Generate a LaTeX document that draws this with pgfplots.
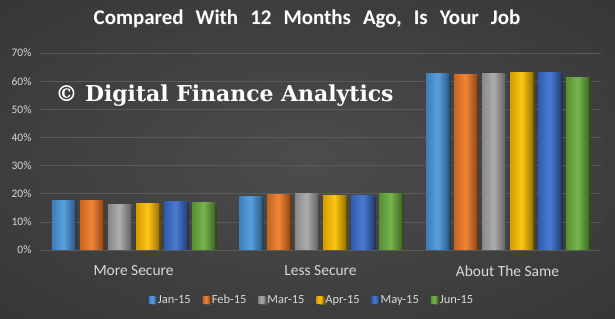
\documentclass[border=0pt]{standalone}
\usepackage{pgfplots}
\pgfplotsset{compat=1.18}
\usepackage{fontspec}
\setmainfont{Carlito}
\newfontfamily\markfont{DejaVu Serif}
\usetikzlibrary{shadows}

\definecolor{cJan}{HTML}{4A98E0}
\definecolor{cFeb}{HTML}{F07A26}
\definecolor{cMar}{HTML}{A6A6A6}
\definecolor{cApr}{HTML}{FFC000}
\definecolor{cMay}{HTML}{3A6FCF}
\definecolor{cJun}{HTML}{6AAF3D}
\definecolor{bgin}{HTML}{4C4C4C}
\definecolor{bgmid}{HTML}{3A3A3A}
\definecolor{bgout}{HTML}{1E1E1E}
\definecolor{gridc}{HTML}{5A5A5A}
\definecolor{tickc}{HTML}{D9D9D9}
\definecolor{axisc}{HTML}{D0D0D0}

\pgfdeclareradialshading{chartbg}{\pgfpoint{0bp}{0bp}}{color(0bp)=(bgin); color(30bp)=(bgmid); color(72bp)=(bgout)}

\pgfplotsset{
  bevel/.style={ybar, bar width=23bp, draw=none,
    left color=#1!82!black, right color=#1!60!black, middle color=#1!92!white,
    drop shadow={shadow xshift=2bp, shadow yshift=-1bp, fill=black, opacity=0.45}},
}

% one path per bar, so that each bar carries its own shading
\newcommand\monthbars[5]{%
  \addplot[bevel=#1, bar shift=#2] coordinates {(0,#3)};
  \addplot[bevel=#1, bar shift=#2, forget plot] coordinates {(1,#4)};
  \addplot[bevel=#1, bar shift=#2, forget plot] coordinates {(2,#5)};
}

\newcommand\charttitle{Compared\hspace{0.35em} With\hspace{0.35em} 12\hspace{0.35em} Months\hspace{0.35em} Ago,\hspace{0.35em} Is\hspace{0.35em} Your\hspace{0.35em} Job}

\begin{document}
\begin{tikzpicture}
\shade[shading=chartbg] (0,0) rectangle (615bp,319bp);

\node[text=black!70, opacity=0.7, font=\fontsize{21}{24}\selectfont\bfseries] at (308bp,299bp) {\charttitle};
\node[text=white, font=\fontsize{21}{24}\selectfont\bfseries] at (307bp,300bp) {\charttitle};

\begin{axis}[
  at={(40bp,69bp)}, anchor=south west,
  scale only axis, width=561bp, height=197bp,
  xmin=-0.5, xmax=2.5, ymin=0, ymax=70,
  xtick={0,1,2}, xticklabels={More Secure, Less Secure, About The Same},
  ytick={0,10,...,70},
  yticklabel={\pgfmathprintnumber{\tick}\%},
  /pgf/number format/assume math mode=true,
  major tick length=0pt,
  axis line style={draw=none},
  ymajorgrids, major grid style={color=gridc, line width=0.6bp},
  ticklabel style={text=tickc},
  yticklabel style={font=\fontsize{11.5}{13}\selectfont, xshift=-5bp},
  xticklabel style={font=\fontsize{15.5}{18}\selectfont, yshift=-12bp},
  legend columns=6,
  legend style={at={(axis description cs:0.485,-0.254)}, anchor=center, draw=none, fill=none,
    text=tickc, font=\fontsize{12.5}{14}\selectfont,
    /tikz/every even column/.append style={column sep=10bp}},
  legend image code/.code={\path[#1] (0bp,-3.5bp) rectangle (7bp,3.5bp);},
]
\monthbars{cJan}{-70bp}{17.7}{18.9}{62.7}
\monthbars{cFeb}{-42bp}{17.7}{19.6}{62.2}
\monthbars{cMar}{-14bp}{16.0}{20.0}{62.7}
\monthbars{cApr}{14bp}{16.4}{19.3}{63.0}
\monthbars{cMay}{42bp}{17.1}{19.3}{63.0}
\monthbars{cJun}{70bp}{16.8}{20.2}{61.3}
\legend{Jan-15, Feb-15, Mar-15, Apr-15, May-15, Jun-15}
\draw[axisc, line width=1bp] (axis cs:-0.5,0) -- (axis cs:2.5,0);
\end{axis}

\node[anchor=base west, text=white, font=\markfont\bfseries\fontsize{22}{26}\selectfont] at (52bp,217bp)
  {© Digital Finance Analytics};
\end{tikzpicture}
\end{document}
